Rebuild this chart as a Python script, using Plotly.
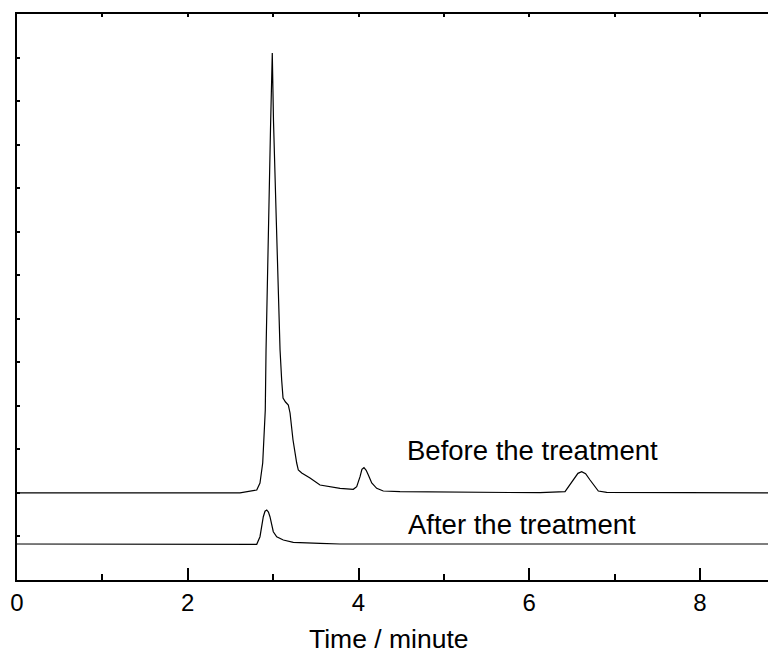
import plotly.graph_objects as go

# Before the treatment (time in minutes, signal in arbitrary units)
before_t = [0.0, 2.612, 2.808, 2.846, 2.878, 2.893, 2.908, 2.917, 2.943, 2.969, 2.990,
            3.004, 3.037, 3.081, 3.100, 3.116, 3.145, 3.178, 3.198, 3.233, 3.276, 3.295,
            3.335, 3.432, 3.549, 3.666, 3.784, 3.939, 3.979, 4.018, 4.040, 4.064, 4.090,
            4.115, 4.155, 4.213, 4.290, 4.486, 6.126, 6.419, 6.516, 6.570, 6.614, 6.660,
            6.712, 6.809, 6.907, 8.89]
before_v = [2.0, 2.0, 2.067, 2.228, 2.687, 3.445, 3.904, 5.283, 8.268, 10.335, 12.104,
            10.565, 8.268, 5.283, 4.593, 4.180, 4.088, 4.019, 3.836, 3.215, 2.687, 2.526,
            2.458, 2.343, 2.182, 2.136, 2.106, 2.083, 2.143, 2.373, 2.540, 2.579, 2.520,
            2.412, 2.228, 2.106, 2.044, 2.028, 2.005, 2.028, 2.297, 2.450, 2.487, 2.440,
            2.297, 2.044, 2.014, 2.0]

# After the treatment
after_t = [0.0, 2.729, 2.808, 2.846, 2.885, 2.905, 2.925, 2.945, 2.963, 3.002, 3.042,
           3.119, 3.236, 3.549, 3.783, 8.89]
after_v = [0.827, 0.827, 0.820, 0.994, 1.454, 1.580, 1.608, 1.560, 1.454, 1.109, 0.994,
           0.919, 0.866, 0.843, 0.827, 0.827]

labels = ["Before the treatment", "After the treatment"]
label_t = [4.545, 4.553]
label_v = [2.974, 1.27]

x_title = "Time / minute"
x_title_pos = 4.357
x_ticks = [0, 2, 4, 6, 8]
x_range = [0, 8.89]
y_range = [0, 13]

FONT = "Liberation Sans, Arial"

fig = go.Figure()
fig.add_trace(go.Scatter(x=before_t, y=before_v, mode="lines",
                         line=dict(color="black", width=1.2), showlegend=False))
fig.add_trace(go.Scatter(x=after_t, y=after_v, mode="lines",
                         line=dict(color="black", width=1.2), showlegend=False))
# invisible trace to anchor the top axis
fig.add_trace(go.Scatter(x=[0], y=[0], xaxis="x2", mode="markers",
                         marker=dict(opacity=0), showlegend=False, hoverinfo="skip"))

for txt, tx, ty in zip(labels, label_t, label_v):
    fig.add_annotation(x=tx, y=ty, text=txt, showarrow=False, xanchor="left",
                       yanchor="middle", font=dict(family=FONT, size=27.5, color="black"))

# x-axis title
fig.add_annotation(x=x_title_pos, xref="x", y=-0.104, yref="paper",
                   text=x_title, showarrow=False, xanchor="center", yanchor="middle",
                   borderpad=0,
                   font=dict(family=FONT, size=26.5, color="black"))

fig.update_layout(
    width=768, height=647,
    margin=dict(l=9, r=0, t=6, b=75, autoexpand=False),
    plot_bgcolor="white", paper_bgcolor="white",
    font=dict(family=FONT, color="black"),
    xaxis=dict(range=x_range, tickvals=x_ticks, ticks="inside", ticklen=12,
               tickwidth=2, tickcolor="black", showline=True, linewidth=2,
               linecolor="black", showgrid=False, zeroline=False, automargin=False,
               tickfont=dict(size=24), ticklabelstandoff=0,
               minor=dict(ticks="inside", ticklen=6, tickwidth=2, dtick=1,
                          tick0=0, tickcolor="black", showgrid=False)),
    xaxis2=dict(range=x_range, overlaying="x", side="top", ticks="inside",
                ticklen=3, tickwidth=2, tickcolor="black", dtick=1, tick0=0,
                showticklabels=False, showline=True, linewidth=2, linecolor="black",
                showgrid=False, zeroline=False, automargin=False),
    yaxis=dict(range=y_range, dtick=1, tick0=0, ticks="inside", ticklen=3,
               tickwidth=2, tickcolor="black", showticklabels=False,
               showline=True, linewidth=2, linecolor="black", automargin=False,
               showgrid=False, zeroline=False),
)

fig.write_html("out.html")
